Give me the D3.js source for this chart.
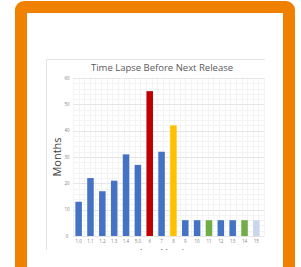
<!DOCTYPE html>
<html>
<head>
<meta charset="utf-8">
<script src="https://d3js.org/d3.v7.min.js"></script>
<style>
  body { margin: 0; background: #fff; }
  text { font-family: "Open Sans", "DejaVu Sans", sans-serif; }
</style>
</head>
<body>
<script>
// chart data
var versions = ["1.0","1.1","1.2","1.3","1.4","5.0","6","7","8","9","10","11","12","13","14","15"];
var months   = [13, 22, 17, 21, 31, 27, 55, 32, 42, 6, 6, 6, 6, 6, 6, 6];
var barColors = ["#4472c4","#4472c4","#4472c4","#4472c4","#4472c4","#4472c4","#c00000","#4472c4","#ffc000",
                 "#4472c4","#4472c4","#70ad47","#4472c4","#4472c4","#70ad47","#c9d6ee"];
var yTicks = [0, 10, 20, 30, 40, 50, 60];

var width = 301, height = 267;

var svg = d3.select("body").append("svg")
    .attr("width", width)
    .attr("height", height);

svg.append("rect").attr("width", width).attr("height", height).attr("fill", "#fff");

// chart panel edges
svg.append("line").attr("x1", 46).attr("x2", 265).attr("y1", 59.5).attr("y2", 59.5)
    .attr("stroke", "#e4e4e4").attr("stroke-width", 1);
svg.append("line").attr("x1", 46.5).attr("x2", 46.5).attr("y1", 59).attr("y2", 250)
    .attr("stroke", "#e4e4e4").attr("stroke-width", 1);

svg.append("text")
    .attr("x", 162).attr("y", 71)
    .attr("text-anchor", "middle")
    .attr("font-size", 9.5)
    .attr("fill", "#595959")
    .text("Time Lapse Before Next Release");

var x = d3.scaleBand()
    .domain(versions)
    .range([73, 262])
    .paddingInner(0.45)
    .paddingOuter(0.2);

var y = d3.scaleLinear()
    .domain([0, 60])
    .range([236, 78]);

var plot = svg.append("g");

// minor grid
plot.selectAll(".hminor").data(d3.range(0, 61, 2)).enter().append("line")
    .attr("x1", 73).attr("x2", 264)
    .attr("y1", function(d) { return Math.round(y(d)) + 0.5; })
    .attr("y2", function(d) { return Math.round(y(d)) + 0.5; })
    .attr("stroke", "#f3f3f3");
plot.selectAll(".vminor").data(d3.range(0, 35)).enter().append("line")
    .attr("x1", function(i) { return Math.round(73 + i * (191 / 34)) + 0.5; })
    .attr("x2", function(i) { return Math.round(73 + i * (191 / 34)) + 0.5; })
    .attr("y1", 78).attr("y2", 236)
    .attr("stroke", "#f3f3f3");

// major grid
plot.selectAll(".hmajor").data(yTicks).enter().append("line")
    .attr("x1", 73).attr("x2", 264)
    .attr("y1", function(d) { return Math.round(y(d)) + 0.5; })
    .attr("y2", function(d) { return Math.round(y(d)) + 0.5; })
    .attr("stroke", "#e6e6e6");

// y tick labels
svg.selectAll(".ylab").data(yTicks).enter().append("text")
    .attr("x", 67).attr("y", function(d) { return y(d) + 1.5; })
    .attr("text-anchor", "middle")
    .attr("font-size", 4.5)
    .attr("fill", "#7f7f7f")
    .text(function(d) { return d; });

// bars
plot.selectAll("rect.bar").data(versions).enter().append("rect")
    .attr("class", "bar")
    .attr("x", function(d) { return x(d); })
    .attr("width", x.bandwidth())
    .attr("y", function(d, i) { return y(months[i]); })
    .attr("height", function(d, i) { return y(0) - y(months[i]); })
    .attr("fill", function(d, i) { return barColors[i]; });

// x tick labels
svg.selectAll(".xlab").data(versions).enter().append("text")
    .attr("x", function(d) { return x(d) + x.bandwidth() / 2; })
    .attr("y", 243)
    .attr("text-anchor", "middle")
    .attr("font-size", 4.5)
    .attr("fill", "#7f7f7f")
    .text(function(d) { return d; });

// axis titles
svg.append("text")
    .attr("transform", "translate(61,157) rotate(-90)")
    .attr("text-anchor", "middle")
    .attr("font-size", 11)
    .attr("fill", "#404040")
    .text("Months");

// x title is cut off by the panel edge in the original
svg.append("clipPath").attr("id", "cut")
    .append("rect").attr("x", 0).attr("y", 0).attr("width", width).attr("height", 250);
svg.append("text")
    .attr("clip-path", "url(#cut)")
    .attr("x", 168).attr("y", 257)
    .attr("text-anchor", "middle")
    .attr("font-size", 10)
    .attr("fill", "#595959")
    .text("Java Version");

// orange frame
svg.append("rect")
    .attr("x", 21).attr("y", 7)
    .attr("width", 268).attr("height", 290)
    .attr("rx", 3)
    .attr("fill", "none")
    .attr("stroke", "#f08000")
    .attr("stroke-width", 12);
</script>
</body>
</html>
